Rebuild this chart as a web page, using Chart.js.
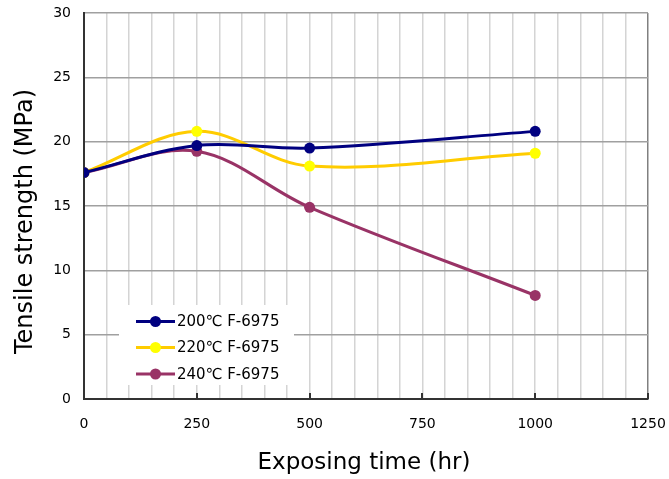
<!DOCTYPE html>
<html>
<head>
<meta charset="utf-8">
<script src="https://cdn.jsdelivr.net/npm/chart.js@4/dist/chart.umd.min.js"></script>
<style>
html,body{margin:0;padding:0;background:#fff;}
#wrap{width:669px;height:479px;position:relative;}
</style>
</head>
<body>
<div id="wrap"><canvas id="c" width="669" height="479"></canvas></div>
<script>
// ---- data ----
const hours = [0, 250, 500, 1000];
const s200 = [17.6, 19.7, 19.5, 20.8];
const s220 = [17.6, 20.8, 18.1, 19.1];
const s240 = [17.6, 19.25, 14.9, 8.05];
const seriesLabels = ['200℃ F-6975', '220℃ F-6975', '240℃ F-6975'];
const xTitle = 'Exposing time (hr)';
const yTitle = 'Tensile strength (MPa)';
const xMin = 0, xMax = 1250, xLabelStep = 250, xGridStep = 50;
const yMin = 0, yMax = 30, yStep = 5;

const FONT = '"DejaVu Sans", "Liberation Sans", sans-serif';

function pts(vals){ return hours.map((h,i)=>({x:h, y:vals[i]})); }

const styles = [
  {line:'#000080', point:'#000080'},
  {line:'#FFCC00', point:'#FFFF00'},
  {line:'#993366', point:'#993366'}
];
const seriesVals = [s200, s220, s240];

const datasets = seriesVals.map((v,i)=>({
  label: seriesLabels[i],
  data: pts(v),
  borderColor: styles[i].line,
  backgroundColor: styles[i].point,
  pointBackgroundColor: styles[i].point,
  pointBorderColor: styles[i].point,
  pointRadius: 5.5,
  pointBorderWidth: 0,
  borderWidth: 3,
  tension: 0.35,
  fill: false
}));

const extras = {
  id: 'extras',
  beforeDatasetsDraw(chart){
    const ctx = chart.ctx, ca = chart.chartArea, xs = chart.scales.x;
    ctx.save();
    ctx.strokeStyle = '#333'; ctx.lineWidth = 2;
    for (let v = xMin; v <= xMax; v += xLabelStep){
      const px = Math.round(xs.getPixelForValue(v));
      ctx.beginPath(); ctx.moveTo(px, ca.bottom); ctx.lineTo(px, ca.bottom - 6); ctx.stroke();
    }
    const lx = 119, ly = 305, lw = 175, lh = 80;
    ctx.fillStyle = '#fff';
    ctx.fillRect(lx, ly, lw, lh);
    const rows = [321.5, 347.5, 374];
    ctx.font = '15px ' + FONT;
    ctx.textBaseline = 'middle';
    ctx.textAlign = 'left';
    chart.data.datasets.forEach((ds,i)=>{
      const y = rows[i];
      ctx.strokeStyle = ds.borderColor; ctx.lineWidth = 3;
      ctx.beginPath(); ctx.moveTo(136, y); ctx.lineTo(175, y); ctx.stroke();
      ctx.fillStyle = ds.pointBackgroundColor;
      ctx.beginPath(); ctx.arc(155.5, y, 5.5, 0, Math.PI*2); ctx.fill();
      ctx.fillStyle = '#000';
      ctx.fillText(ds.label, 177, y + 1);
    });
    ctx.restore();
  },
  afterDraw(chart){
    const ctx = chart.ctx;
    ctx.save();
    ctx.fillStyle = '#000';
    ctx.textAlign = 'center';
    ctx.textBaseline = 'alphabetic';
    ctx.font = '23px ' + FONT;
    ctx.fillText(xTitle, 364, 469);
    ctx.translate(32, 221.5);
    ctx.rotate(-Math.PI/2);
    ctx.font = '24px ' + FONT;
    ctx.fillText(yTitle, 0, 0);
    ctx.restore();
  }
};

new Chart(document.getElementById('c'), {
  type: 'line',
  data: { datasets },
  plugins: [extras],
  options: {
    responsive: false,
    animation: false,
    devicePixelRatio: 1,
    layout: { padding: { top: 13, right: 21, left: 0, bottom: 0 } },
    plugins: { legend: { display: false }, tooltip: { enabled: false } },
    scales: {
      x: {
        type: 'linear', min: xMin, max: xMax,
        afterFit(s){ s.height = 80; s.paddingLeft = 0; s.paddingRight = 0; },
        afterBuildTicks(s){
          const t = []; for (let v = xMin; v <= xMax; v += xGridStep) t.push({value: v}); s.ticks = t;
        },
        ticks: {
          autoSkip: false, maxRotation: 0, padding: 17,
          color: '#000', font: { size: 14, family: FONT },
          callback: v => (v % xLabelStep === 0 ? String(v) : '')
        },
        grid: {
          drawTicks: false, lineWidth: 1.5,
          color: c => (c.tick && c.tick.value === xMax ? '#808080' : '#d4d4d4')
        },
        border: { color: '#333', width: 2 }
      },
      y: {
        min: yMin, max: yMax,
        afterFit(s){ s.width = 84; s.paddingTop = 0; s.paddingBottom = 0; },
        ticks: {
          stepSize: yStep, padding: 13,
          color: '#000', font: { size: 14, family: FONT }
        },
        grid: { drawTicks: false, lineWidth: 1.5, color: '#a0a0a0' },
        border: { color: '#333', width: 2 }
      }
    }
  }
});
</script>
</body>
</html>
